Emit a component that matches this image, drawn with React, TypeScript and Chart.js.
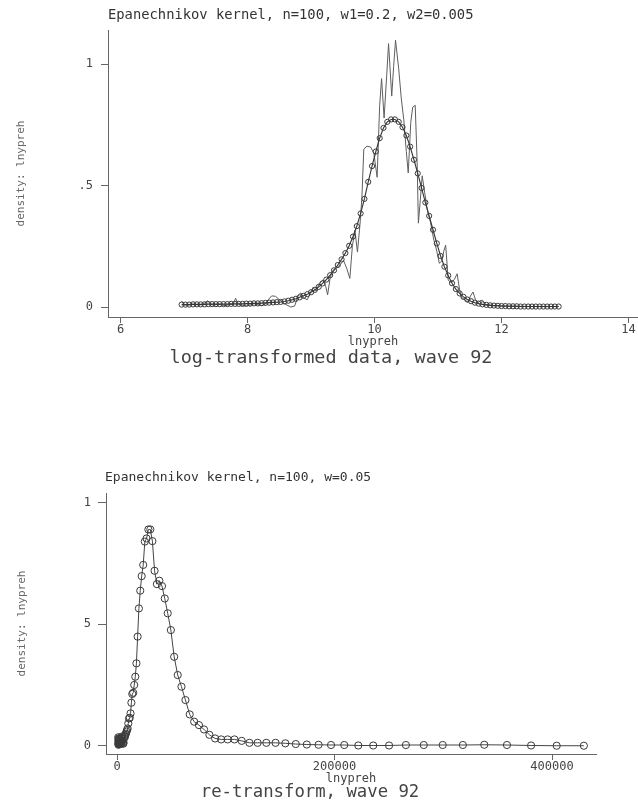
import React, { useEffect, useRef } from "react";
import { Chart, registerables } from "chart.js";

Chart.register(...registerables);

const MONO = "'DejaVu Sans Mono', 'Liberation Mono', monospace";

// ---- upper panel: kernel densities of log income ----
const logGrid = [
  6.96, 7.02, 7.08, 7.14, 7.2, 7.26, 7.32, 7.38, 7.44, 7.5,
  7.56, 7.62, 7.68, 7.74, 7.8, 7.86, 7.92, 7.98, 8.04, 8.1,
  8.16, 8.22, 8.28, 8.34, 8.4, 8.46, 8.52, 8.58, 8.64, 8.7,
  8.76, 8.82, 8.88, 8.94, 9.0, 9.06, 9.12, 9.18, 9.24, 9.3,
  9.36, 9.42, 9.48, 9.54, 9.6, 9.66, 9.72, 9.78, 9.84, 9.9,
  9.96, 10.02, 10.08, 10.14, 10.2, 10.26, 10.32, 10.38, 10.44, 10.5,
  10.56, 10.62, 10.68, 10.74, 10.8, 10.86, 10.92, 10.98, 11.04, 11.1,
  11.16, 11.22, 11.28, 11.34, 11.4, 11.46, 11.52, 11.58, 11.64, 11.7,
  11.76, 11.82, 11.88, 11.94, 12.0, 12.06, 12.12, 12.18, 12.24, 12.3,
  12.36, 12.42, 12.48, 12.54, 12.6, 12.66, 12.72, 12.78, 12.84, 12.9,
];

// wide window (w1 = 0.2)
const densityWide = [
  0.01, 0.01, 0.01, 0.011, 0.011, 0.011, 0.011, 0.012, 0.012, 0.012,
  0.012, 0.012, 0.012, 0.013, 0.013, 0.013, 0.013, 0.014, 0.014, 0.015,
  0.015, 0.016, 0.017, 0.018, 0.019, 0.02, 0.021, 0.023, 0.026, 0.03,
  0.034, 0.04, 0.046, 0.053, 0.061, 0.071, 0.083, 0.097, 0.113, 0.131,
  0.151, 0.173, 0.196, 0.222, 0.252, 0.29, 0.333, 0.385, 0.445, 0.515,
  0.58, 0.64, 0.695, 0.737, 0.762, 0.772, 0.772, 0.762, 0.74, 0.706,
  0.66, 0.606, 0.55, 0.49, 0.43, 0.375, 0.318, 0.262, 0.21, 0.166,
  0.13, 0.098, 0.074, 0.056, 0.042, 0.031, 0.024, 0.018, 0.014, 0.011,
  0.009, 0.007, 0.006, 0.005, 0.004, 0.004, 0.003, 0.003, 0.003, 0.002,
  0.002, 0.002, 0.002, 0.002, 0.002, 0.002, 0.002, 0.002, 0.002, 0.002,
];

// narrow window (w2 = 0.005)
const narrowX = [
  6.96, 7.0, 7.06, 7.12, 7.18, 7.24, 7.3, 7.37, 7.42, 7.48,
  7.54, 7.6, 7.66, 7.72, 7.77, 7.81, 7.86, 7.92, 7.98, 8.04,
  8.1, 8.16, 8.22, 8.28, 8.33, 8.38, 8.44, 8.5, 8.56, 8.62,
  8.68, 8.74, 8.8, 8.84, 8.89, 8.94, 8.99, 9.03, 9.08, 9.13,
  9.19, 9.23, 9.26, 9.3, 9.34, 9.4, 9.46, 9.51, 9.56, 9.61,
  9.65, 9.69, 9.73, 9.77, 9.8, 9.83, 9.88, 9.94, 9.99, 10.04,
  10.08, 10.11, 10.15, 10.19, 10.22, 10.27, 10.3, 10.33, 10.38, 10.42,
  10.46, 10.5, 10.53, 10.57, 10.6, 10.64, 10.67, 10.69, 10.72, 10.75,
  10.79, 10.83, 10.88, 10.93, 10.98, 11.02, 11.06, 11.09, 11.12, 11.16,
  11.21, 11.26, 11.3, 11.34, 11.37, 11.42, 11.47, 11.51, 11.55, 11.59,
  11.62, 11.66, 11.7, 11.75, 11.82, 11.9, 12.0, 12.2, 12.5, 12.9,
];
const densityNarrow = [
  0.025, 0.01, 0.008, 0.012, 0.01, 0.008, 0.012, 0.026, 0.01, 0.008,
  0.012, 0.008, 0.006, 0.012, 0.01, 0.036, 0.01, 0.006, 0.004, 0.008,
  0.014, 0.01, 0.006, 0.012, 0.032, 0.046, 0.044, 0.03, 0.018, 0.008,
  0.0, 0.004, 0.05, 0.058, 0.036, 0.03, 0.06, 0.08, 0.066, 0.098,
  0.112, 0.085, 0.05, 0.12, 0.15, 0.16, 0.175, 0.192, 0.16, 0.118,
  0.25, 0.316, 0.226, 0.34, 0.45, 0.65, 0.662, 0.658, 0.63, 0.534,
  0.83, 0.94, 0.778, 0.95, 1.084, 0.868, 0.99, 1.098, 0.98, 0.86,
  0.77, 0.64, 0.552, 0.76, 0.822, 0.83, 0.6, 0.345, 0.44, 0.54,
  0.47, 0.4, 0.35, 0.28, 0.23, 0.18, 0.19, 0.23, 0.255, 0.11,
  0.1, 0.115, 0.137, 0.07, 0.04, 0.03, 0.02, 0.045, 0.062, 0.03,
  0.015, 0.026, 0.028, 0.01, 0.008, 0.006, 0.004, 0.003, 0.002, 0.002,
];

const topXTicks = [6, 8, 10, 12, 14];
const yTicks = [0, 0.5, 1];
const topYLabels = ["0", ".5", "1"];

// ---- lower panel: density on the original income scale ----
const incomeGrid = [
  1130, 1200, 1274, 1353, 1437, 1525, 1620, 1720, 1826, 1939,
  2059, 2186, 2322, 2465, 2618, 2780, 2951, 3134, 3328, 3533,
  3752, 3984, 4230, 4492, 4770, 5065, 5378, 5710, 6063, 6438,
  6836, 7259, 7708, 8185, 8691, 9228, 9799, 10405, 11048, 11731,
  12457, 13227, 14045, 14913, 15835, 16814, 17854, 18958, 20130, 21375,
  22697, 24100, 25591, 27173, 28853, 30637, 32532, 34544, 36680, 38948,
  41356, 43913, 46629, 49512, 52573, 55824, 59276, 62941, 66833, 70966,
  75354, 80013, 84961, 90214, 95793, 101716, 108005, 114684, 121775, 129305,
  137300, 145790, 154805, 164377, 174541, 185334, 196794, 208962, 221883, 235603,
  250171, 265640, 282065, 299506, 318026, 337690, 358571, 380743, 404285, 429284,
];
const densityIncome = [
  0.035, 0.02, 0.008, 0.004, 0.012, 0.03, 0.025, 0.01, 0.006, 0.014,
  0.028, 0.016, 0.008, 0.03, 0.022, 0.01, 0.012, 0.015, 0.01, 0.008,
  0.012, 0.016, 0.03, 0.038, 0.03, 0.02, 0.014, 0.008, 0.012, 0.03,
  0.04, 0.036, 0.045, 0.05, 0.058, 0.064, 0.071, 0.092, 0.112, 0.115,
  0.133, 0.177, 0.213, 0.218, 0.25, 0.284, 0.339, 0.449, 0.565, 0.638,
  0.698, 0.744, 0.84, 0.853, 0.89, 0.89, 0.842, 0.72, 0.665, 0.679,
  0.657, 0.606, 0.545, 0.476, 0.366, 0.291, 0.243, 0.188, 0.129, 0.099,
  0.085, 0.067, 0.045, 0.03, 0.026, 0.026, 0.026, 0.02, 0.012, 0.012,
  0.012, 0.012, 0.01, 0.007, 0.005, 0.004, 0.003, 0.003, 0.001, 0.001,
  0.001, 0.003, 0.003, 0.003, 0.003, 0.004, 0.003, 0.001, 0.0, 0.0,
];
const bottomXTicks = [0, 200000, 400000];
const bottomYLabels = ["0", "5", "1"];

type Caption = { text: string; x: number; y: number; size: number; align: CanvasTextAlign; color: string };

// Draws the panel heading and the caption beneath the axis.
const captionPlugin = {
  id: "captions",
  afterDraw(chart: any, _args: any, opts: any) {
    const items: Caption[] = (opts && opts.items) || [];
    const ctx = chart.ctx as CanvasRenderingContext2D;
    ctx.save();
    items.forEach((c) => {
      ctx.font = `${c.size}px ${MONO}`;
      ctx.fillStyle = c.color;
      ctx.textAlign = c.align;
      ctx.textBaseline = "middle";
      ctx.fillText(c.text, c.x, c.y);
    });
    ctx.restore();
  },
};

function pts(xs: number[], ys: number[]) {
  return xs.map((x, i) => ({ x, y: ys[i] }));
}

type PanelSpec = {
  width: number;
  height: number;
  padTop: number;
  padRight: number;
  yWidth: number;
  xHeight: number;
  xMin: number;
  xMax: number;
  yMin: number;
  yMax: number;
  xTicks: number[];
  yLabels: string[];
  yTickLen: number;
  yTickPad: number;
  yTitlePad: number;
  xTitlePad: number;
  datasets: any[];
  captions: Caption[];
};

function buildConfig(p: PanelSpec): any {
  const tickFont = { family: MONO, size: 12 };
  return {
    type: "line",
    data: { datasets: p.datasets },
    plugins: [captionPlugin],
    options: {
      animation: false,
      responsive: false,
      devicePixelRatio: 1,
      events: [],
      layout: { padding: { top: p.padTop, right: p.padRight, bottom: 0, left: 0 } },
      plugins: {
        legend: { display: false },
        tooltip: { enabled: false },
        title: { display: false },
        captions: { items: p.captions },
      },
      scales: {
        x: {
          type: "linear",
          min: p.xMin,
          max: p.xMax,
          afterBuildTicks: (s: any) => {
            s.ticks = p.xTicks.map((v) => ({ value: v }));
          },
          afterFit: (s: any) => {
            s.height = p.xHeight;
          },
          ticks: {
            font: tickFont,
            color: "#444",
            padding: 0,
            maxRotation: 0,
            autoSkip: false,
            callback: (v: number) => String(v),
          },
          grid: { drawOnChartArea: false, tickLength: 6, color: "#666", lineWidth: 1 },
          border: { display: true, color: "#666", width: 1 },
          title: {
            display: true,
            text: "lnypreh",
            font: { family: MONO, size: 12 },
            color: "#444",
            padding: { top: 0, bottom: p.xTitlePad },
          },
        },
        y: {
          type: "linear",
          min: p.yMin,
          max: p.yMax,
          afterBuildTicks: (s: any) => {
            s.ticks = yTicks.map((v) => ({ value: v }));
          },
          afterFit: (s: any) => {
            s.width = p.yWidth;
          },
          ticks: {
            font: tickFont,
            color: "#444",
            padding: p.yTickPad,
            autoSkip: false,
            callback: (_v: number, i: number) => p.yLabels[i],
          },
          grid: { drawOnChartArea: false, tickLength: p.yTickLen, color: "#666", lineWidth: 1 },
          border: { display: true, color: "#666", width: 1 },
          title: {
            display: true,
            text: "density: lnypreh",
            font: { family: MONO, size: 11 },
            color: "#666",
            padding: { top: p.yTitlePad, bottom: 0 },
          },
        },
      },
    },
  };
}

const TOP_H = 370;
const BOTTOM_H = 345;

const topSpec: PanelSpec = {
  width: 646,
  height: TOP_H,
  padTop: 30,
  padRight: 8,
  yWidth: 108,
  xHeight: TOP_H - 317,
  xMin: 5.8,
  xMax: 14.15,
  yMin: -0.041,
  yMax: 1.14,
  xTicks: topXTicks,
  yLabels: topYLabels,
  yTickLen: 7,
  yTickPad: 8,
  yTitlePad: 15,
  xTitlePad: 21,
  datasets: [
    {
      label: "w1=0.2",
      data: pts(logGrid, densityWide),
      borderColor: "#333",
      borderWidth: 1.1,
      pointRadius: 2.6,
      pointStyle: "circle",
      pointBorderColor: "#3a3a3a",
      pointBorderWidth: 1,
      pointBackgroundColor: "rgba(0,0,0,0)",
      tension: 0,
      fill: false,
    },
    {
      label: "w2=0.005",
      data: pts(narrowX, densityNarrow),
      borderColor: "#5e5e5e",
      borderWidth: 1,
      pointRadius: 0,
      tension: 0,
      fill: false,
    },
  ],
  captions: [
    { text: "Epanechnikov kernel, n=100, w1=0.2, w2=0.005", x: 108, y: 15, size: 13.8, align: "left", color: "#333" },
    { text: "log-transformed data, wave 92", x: 331, y: 358, size: 18.5, align: "center", color: "#444" },
  ],
};

const bottomSpec: PanelSpec = {
  width: 638,
  height: BOTTOM_H,
  padTop: 33,
  padRight: 42,
  yWidth: 106,
  xHeight: BOTTOM_H - 294,
  xMin: -10115,
  xMax: 440440,
  yMin: -0.034,
  yMax: 1.04,
  xTicks: bottomXTicks,
  yLabels: bottomYLabels,
  yTickLen: 8,
  yTickPad: 7,
  yTitlePad: 16,
  xTitlePad: 19,
  datasets: [
    {
      label: "w=0.05",
      data: pts(incomeGrid, densityIncome),
      borderColor: "#444",
      borderWidth: 1,
      pointRadius: 3.6,
      pointStyle: "circle",
      pointBorderColor: "#3a3a3a",
      pointBorderWidth: 1,
      pointBackgroundColor: "rgba(0,0,0,0)",
      tension: 0,
      fill: false,
    },
  ],
  captions: [
    { text: "Epanechnikov kernel, n=100, w=0.05", x: 105, y: 18, size: 13, align: "left", color: "#333" },
    { text: "re-transform, wave 92", x: 310, y: 333, size: 17.3, align: "center", color: "#444" },
  ],
};

function Panel({ spec, top }: { spec: PanelSpec; top: number }) {
  const ref = useRef<HTMLCanvasElement | null>(null);
  useEffect(() => {
    if (!ref.current) return;
    const chart = new Chart(ref.current, buildConfig(spec));
    return () => chart.destroy();
  }, [spec]);
  return (
    <canvas
      ref={ref}
      width={spec.width}
      height={spec.height}
      style={{ position: "absolute", left: 0, top, width: spec.width, height: spec.height, display: "block" }}
    />
  );
}

export default function App() {
  return (
    <div style={{ position: "absolute", left: 0, top: 0, width: 638, height: 805, background: "#fff", overflow: "hidden" }}>
      <Panel spec={topSpec} top={0} />
      <Panel spec={bottomSpec} top={460} />
    </div>
  );
}
